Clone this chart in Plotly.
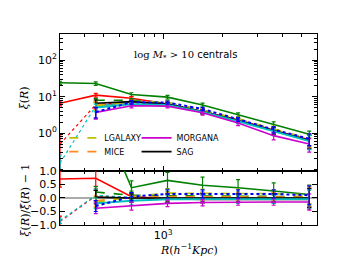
import plotly.graph_objects as go
from plotly.subplots import make_subplots

# ---------------- data ----------------
R = [300, 455, 690, 1050, 1580, 2390, 3620, 5480]

# top panel: xi(R)
green_xi = [24, 23, 11.5, 9.7, 5.9, 3.2, 1.74, 0.93]
green_xi_err = [2.5, 2.5, 1.3, 1.1, 0.7, 0.4, 0.3, 0.2]
red_xi = [6.6, 11.0, 9.0, 6.3, 3.9, 2.3, 1.2, 0.65]
red_xi_err = [1.0, 1.3, 1.0, 0.8, 0.6, 0.4, 0.3, 0.25]
reddot_xi = [0.5, 6.0, 7.2, 6.2, 3.9, 2.2, 1.15, 0.62]
reddot_xi_err = [0.4, 1.2, 0.8, 0.7, 0.5, 0.3, 0.25, 0.25]
cyandot_xi = [0.15, 5.5, 7.0, 6.1, 3.8, 2.2, 1.15, 0.62]
cyandot_xi_err = [0.1, 1.2, 0.8, 0.7, 0.5, 0.3, 0.25, 0.25]
grey_xi = [None, 5.5, 7.0, 6.2, 3.9, 2.2, 1.15, 0.62]
grey_xi_err = [0, 3.0, 0.8, 0.7, 0.5, 0.3, 0.25, 0.25]
green_dash_xi = [None, 8.0, 8.0, 6.8, 4.2, 2.4, 1.25, 0.68]
green_dash_xi_err = [0, 1.0, 0.8, 0.7, 0.5, 0.3, 0.25, 0.25]
lgalaxy_xi = [None, 5.5, 7.5, 7.0, 4.3, 2.5, 1.3, 0.7]
lgalaxy_xi_err = [0, 1.5, 0.8, 0.7, 0.5, 0.3, 0.25, 0.25]
mice_xi = [None, 6.0, 7.2, 6.5, 4.0, 2.3, 1.2, 0.65]
mice_xi_err = [0, 1.5, 0.8, 0.7, 0.5, 0.3, 0.25, 0.25]
sag_xi = [None, 6.6, 7.3, 6.3, 3.9, 2.2, 1.15, 0.62]
sag_xi_err = [0, 1.5, 0.8, 0.7, 0.5, 0.3, 0.25, 0.25]
cyan_xi = [None, 5.0, 6.2, 5.9, 3.8, 2.1, 1.1, 0.6]
cyan_xi_err = [0, 1.2, 0.7, 0.6, 0.5, 0.3, 0.25, 0.25]
morgana_xi = [None, 3.7, 5.6, 5.5, 3.6, 1.9, 0.85, 0.5]
morgana_xi_err = [0, 1.3, 0.7, 0.6, 0.5, 0.3, 0.2, 0.2]
blue_xi = [None, 3.8, 7.0, 6.9, 4.6, 2.4, 1.25, 0.7]
blue_xi_err = [0, 1.2, 0.8, 0.7, 0.5, 0.3, 0.25, 0.25]

# bottom panel: xi / xi_mean - 1
green_rat = [5.0, 3.5, 0.38, 0.65, 0.47, 0.38, 0.26, 0.13]
green_rat_err = [0.3, 0.3, 0.25, 0.3, 0.3, 0.3, 0.3, 0.35]
red_rat = [0.7, 0.73, 0.05, -0.03, -0.05, -0.05, -0.05, -0.05]
red_rat_err = [0.3, 0.3, 0.15, 0.15, 0.15, 0.15, 0.15, 0.35]
reddot_rat = [-0.87, 0.08, 0.02, 0.0, 0.0, 0.0, 0.0, 0.0]
reddot_rat_err = [0.2, 0.2, 0.15, 0.15, 0.15, 0.15, 0.15, 0.35]
cyandot_rat = [-0.84, 0.1, 0.02, 0.0, 0.0, 0.0, 0.0, 0.0]
cyandot_rat_err = [0.1, 0.2, 0.15, 0.15, 0.15, 0.15, 0.15, 0.35]
grey_rat = [None, 0.0, 0.0, 0.0, 0.0, 0.0, 0.0, 0.0]
grey_rat_err = [0, 0.35, 0.15, 0.15, 0.15, 0.15, 0.15, 0.35]
green_dash_rat = [None, 0.22, 0.1, 0.08, 0.07, 0.07, 0.07, 0.05]
green_dash_rat_err = [0, 0.2, 0.15, 0.15, 0.15, 0.15, 0.15, 0.35]
lgalaxy_rat = [None, -0.17, 0.05, 0.18, 0.18, 0.18, 0.16, 0.12]
lgalaxy_rat_err = [0, 0.2, 0.15, 0.15, 0.15, 0.15, 0.15, 0.35]
mice_rat = [None, -0.1, 0.02, 0.05, 0.05, 0.05, 0.05, 0.03]
mice_rat_err = [0, 0.2, 0.15, 0.15, 0.15, 0.15, 0.15, 0.35]
sag_rat = [None, 0.03, 0.0, 0.0, 0.0, 0.0, 0.0, 0.0]
sag_rat_err = [0, 0.25, 0.15, 0.15, 0.15, 0.15, 0.15, 0.35]
cyan_rat = [None, -0.2, -0.1, -0.05, -0.05, -0.05, -0.05, -0.05]
cyan_rat_err = [0, 0.2, 0.15, 0.15, 0.15, 0.15, 0.15, 0.35]
morgana_rat = [None, -0.38, -0.3, -0.2, -0.17, -0.15, -0.15, -0.15]
morgana_rat_err = [0, 0.2, 0.15, 0.12, 0.12, 0.12, 0.12, 0.3]
blue_rat = [None, -0.3, 0.05, 0.15, 0.15, 0.15, 0.15, 0.1]
blue_rat_err = [0, 0.2, 0.15, 0.15, 0.15, 0.15, 0.15, 0.35]

y_major = [1, 10, 100]
y_major_text = ["10<sup>0</sup>", "10<sup>1</sup>", "10<sup>2</sup>"]
r_ticks = [-1, -0.5, 0, 0.5, 1]
r_ticks_text = ["\u22121.0", "\u22120.5", "0.0", "0.5", "1.0"]
x_major = [1000]
x_major_text = ["10<sup>3</sup>"]

# ---------------- figure ----------------
fig = make_subplots(rows=2, cols=1, shared_xaxes=True, vertical_spacing=0,
                    row_heights=[0.717, 0.283])

series = [
    # name, color, dash, width, xi, xi_err, rat, rat_err, legend
    ("grey", "#808080", "solid", 1.5, grey_xi, grey_xi_err, grey_rat, grey_rat_err, None),
    ("red dotted", "#ff0000", "dot", 1.2, reddot_xi, reddot_xi_err, reddot_rat, reddot_rat_err, None),
    ("cyan dotted", "#00bfbf", "dot", 1.2, cyandot_xi, cyandot_xi_err, cyandot_rat, cyandot_rat_err, None),
    ("green", "#008000", "solid", 1.6, green_xi, green_xi_err, green_rat, green_rat_err, None),
    ("red", "#ff0000", "solid", 1.6, red_xi, red_xi_err, red_rat, red_rat_err, None),
    ("green dashed", "#008000", "dash", 1.6, green_dash_xi, green_dash_xi_err, green_dash_rat, green_dash_rat_err, None),
    ("MICE", "#ff8c1a", "dash", 1.6, mice_xi, mice_xi_err, mice_rat, mice_rat_err, "legend2"),
    ("LGALAXY", "#bfbf00", "dash", 1.6, lgalaxy_xi, lgalaxy_xi_err, lgalaxy_rat, lgalaxy_rat_err, "legend"),
    ("SAG", "#000000", "solid", 1.6, sag_xi, sag_xi_err, sag_rat, sag_rat_err, "legend4"),
    ("cyan", "#00bfbf", "solid", 2.0, cyan_xi, cyan_xi_err, cyan_rat, cyan_rat_err, None),
    ("MORGANA", "#cc00cc", "solid", 1.6, morgana_xi, morgana_xi_err, morgana_rat, morgana_rat_err, "legend3"),
    ("blue dotted", "#0000ff", "dot", 2.0, blue_xi, blue_xi_err, blue_rat, blue_rat_err, None),
]

for name, col, dash, w, xi, xe, rat, re_, leg in series:
    fig.add_trace(go.Scatter(
        x=R, y=xi, mode="lines", name=name,
        line=dict(color=col, dash=dash, width=w),
        error_y=dict(type="data", array=xe, color=col, thickness=1.2, width=2),
        showlegend=leg is not None, legend=leg if leg else "legend",
        connectgaps=False,
    ), row=1, col=1)
    fig.add_trace(go.Scatter(
        x=R, y=rat, mode="lines", name=name,
        line=dict(color=col, dash=dash, width=w),
        error_y=dict(type="data", array=re_, color=col, thickness=1.2, width=2),
        showlegend=False,
    ), row=2, col=1)

axis_common = dict(showline=True, linecolor="black", linewidth=1, mirror="allticks",
                   ticks="inside", ticklen=5, tickcolor="black", showgrid=False,
                   zeroline=False, tickfont=dict(family="DejaVu Sans", size=11, color="black"))

fig.update_xaxes(type="log", range=[2.477, 3.778], tickvals=x_major, ticktext=x_major_text,
                 minor=dict(ticks="inside", ticklen=3, tickcolor="black", dtick="D1", showgrid=False),
                 **axis_common)
fig.update_xaxes(showticklabels=False, row=1, col=1)
fig.update_yaxes(type="log", range=[-1.04, 2.72], tickvals=y_major, ticktext=y_major_text,
                 minor=dict(ticks="inside", ticklen=3, tickcolor="black", dtick="D1", showgrid=False),
                 row=1, col=1, **axis_common)
fig.update_yaxes(range=[-1, 1], tickvals=r_ticks, ticktext=r_ticks_text,
                 row=2, col=1, **axis_common)

fig.add_hline(y=0, line=dict(color="#909090", width=1.5), row=2, col=1, layer="below")

leg_style = dict(xanchor="left", yanchor="top", bgcolor="rgba(0,0,0,0)",
                 font=dict(size=8, family="DejaVu Sans"), tracegroupgap=0, itemwidth=30)

fig.update_layout(
    width=344, height=258,
    margin=dict(l=52, r=35, t=26, b=41),
    paper_bgcolor="white", plot_bgcolor="white",
    font=dict(family="DejaVu Sans", color="black"),
    legend=dict(x=0.017, y=0.532, **leg_style),
    legend2=dict(x=0.017, y=0.460, **leg_style),
    legend3=dict(x=0.298, y=0.532, **leg_style),
    legend4=dict(x=0.298, y=0.460, **leg_style),
    annotations=[
        dict(text="<span style='font-family:DejaVu Serif'>log <i>M</i><sub>*</sub> > 10</span> centrals",
             x=0.49, y=0.89, xref="paper", yref="paper",
             showarrow=False, font=dict(size=10, family="DejaVu Sans"), xanchor="center", yanchor="middle"),
        dict(text="<i>\u03be</i>(<i>R</i>)", x=-0.135, y=0.665, xref="paper", yref="paper",
             showarrow=False, textangle=-90, font=dict(size=11, family="DejaVu Serif"),
             xanchor="center", yanchor="middle"),
        dict(text="<i>\u03be</i>(<i>R</i>)/<i>\u03be\u0304</i>(<i>R</i>) \u2212 1", x=-0.135, y=0.13,
             xref="paper", yref="paper", showarrow=False, textangle=-90,
             font=dict(size=11, family="DejaVu Serif"), xanchor="center", yanchor="middle"),
        dict(text="<i>R</i>(<i>h</i><sup>\u22121</sup><i>Kpc</i>)", x=0.5, y=-0.13, xref="paper",
             yref="paper", showarrow=False, font=dict(size=11, family="DejaVu Serif"),
             xanchor="center", yanchor="middle"),
    ],
)

fig.write_html("out.html")
